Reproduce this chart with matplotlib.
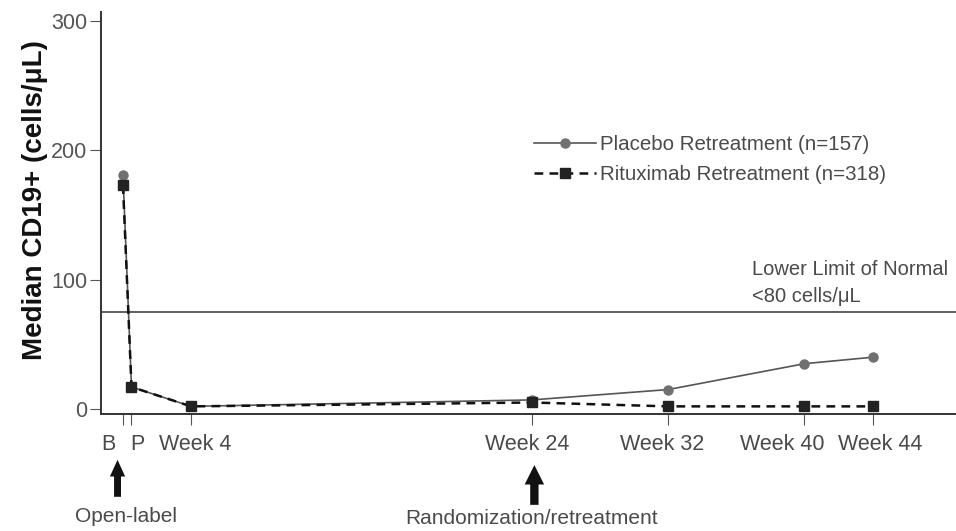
import matplotlib.pyplot as plt

plt.rcParams['font.family'] = ['Liberation Sans', 'DejaVu Sans']

# data (weeks, median CD19+ cells/uL)
weeks = [0, 0.5, 4, 24, 32, 40, 44]
tick_labels = ["B", "P", "Week 4", "Week 24", "Week 32", "Week 40", "Week 44"]
placebo = [181, 17, 2, 7, 15, 35, 40]
rituximab = [173, 17, 2, 5, 2, 2, 2]
lower_limit = 75

# where each tick label sits (in weeks) -- labels are nudged like the original
label_pos = [-0.87, 0.83, 4.24, 23.74, 31.67, 38.7, 44.47]

GREY = "#4a4a4a"

fig = plt.figure(figsize=(9.56, 5.31), dpi=100)
ax = fig.add_axes([101 / 956, 1 - 414 / 531, 1 - 101 / 956, (414 - 12) / 531])

ax.plot(weeks, placebo, color="#555555", lw=1.2, marker="o", ms=6.5,
        mfc="#707070", mec="#707070", label="Placebo Retreatment (n=157)", zorder=3)
ax.plot(weeks, rituximab, color="#111111", lw=1.8, ls=(0, (3.5, 2.5)), marker="s", ms=6.5,
        mfc="#222222", mec="#222222", label="Rituximab Retreatment (n=318)", zorder=4)

ax.axhline(lower_limit, color="#444444", lw=1.2)
ax.text(36.9, 80, "Lower Limit of Normal\n<80 cells/\u03bcL", fontsize=14.5, color=GREY,
        ha="left", va="bottom", linespacing=1.5)

ax.set_xlim(-1.29, 48.9)
ax.set_ylim(-3.9, 307)
ax.set_xticks(weeks)
ax.set_xticklabels([])
for x, lab in zip(label_pos, tick_labels):
    ax.text(x, -0.077, lab, transform=ax.get_xaxis_transform(), ha="center", va="center",
            fontsize=15.5, color=GREY)
ax.set_yticks([0, 100, 200, 300])
ax.tick_params(axis="y", labelsize=15.5, labelcolor="#555555", color="#555555", length=8, pad=2)
ax.tick_params(axis="x", color="#555555", length=8)

ax.spines["top"].set_visible(False)
ax.spines["right"].set_visible(False)
ax.spines["left"].set_color("#333333")
ax.spines["bottom"].set_color("#333333")
ax.spines["left"].set_linewidth(1.4)
ax.spines["bottom"].set_linewidth(1.4)

ax.set_ylabel("Median CD19+ (cells/\u03bcL)", fontsize=20, fontweight="bold", color="#111111")
ax.yaxis.set_label_coords(-0.0625, 0.532)

leg = ax.legend(loc="upper left", bbox_to_anchor=(0.485, 0.74), frameon=False, fontsize=14.8,
                handlelength=3.0, handletextpad=0.2, labelspacing=0.55)
for t in leg.get_texts():
    t.set_color(GREY)

# arrows under the axis
arrows = [
    # x (weeks), tip, tail, shaft width, head width, head length, label, label x, label y
    (-0.32, -0.114, -0.206, 5, 11, 12, "Open-label", 0.15, -0.254),
    (24.15, -0.127, -0.226, 6, 14, 14, "Randomization/retreatment", 24.0, -0.259),
]
for wk, tip, tail, w, hw, hl, label, tx, ty in arrows:
    ax.annotate("", xy=(wk, tip), xytext=(wk, tail),
                xycoords=("data", "axes fraction"),
                arrowprops=dict(facecolor="#111111", edgecolor="none", width=w,
                                headwidth=hw, headlength=hl, shrink=0))
    ax.text(tx, ty, label, transform=ax.get_xaxis_transform(),
            ha="center", va="center", fontsize=15, color=GREY)

fig.savefig("out.png", dpi=100)
